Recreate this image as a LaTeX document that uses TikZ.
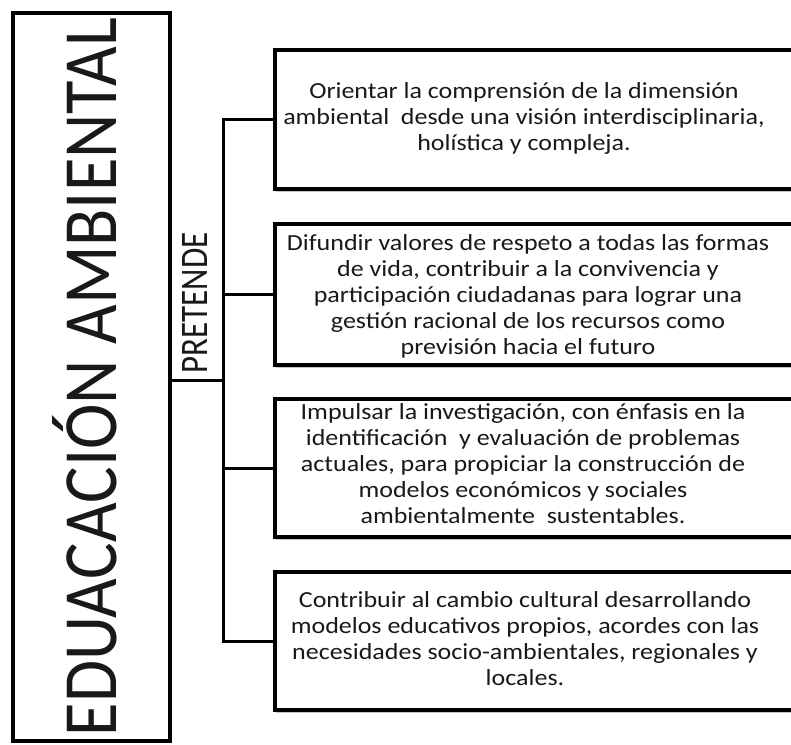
\documentclass[tikz,border=0pt]{standalone}
\usepackage{graphicx}
\usepackage{fontspec}
\setmainfont{Carlito}
\usetikzlibrary{shadows}
\newcommand{\boxlines}[1]{\scalebox{1.13}[1]{\fontsize{23}{26}\selectfont\begin{tabular}{@{}c@{}}#1\end{tabular}}}
\begin{document}
\begin{tikzpicture}[x=1pt,y=-1pt,
  ebox/.style={draw, line width=4pt, fill=white,
    drop shadow={shadow xshift=1pt,shadow yshift=-3pt,opacity=0.45},
    minimum width=527pt, anchor=north west, inner sep=0pt},
  etext/.style={text=black!90, inner sep=0pt},
  conn/.style={line width=3pt}]
\useasboundingbox (0,0) rectangle (791,744);
\clip (0,0) rectangle (791,744);
\fill[white] (0,0) rectangle (791,744);
% title box
\node[draw, line width=4pt, minimum width=728pt, minimum height=157pt, rotate=90,
  inner sep=0pt, text height=49.6pt, text depth=0pt, text=black!90] (title) at (91.5,377)
  {\fontsize{68.5}{68.5}\selectfont\scalebox{1}[1.12]{EDUACACIÓN AMBIENTAL}};
% label
\node[rotate=90, inner sep=0pt, text height=25pt, text depth=0pt, text=black!90] (pre) at (195,303)
  {\fontsize{33}{33}\selectfont\scalebox{1}[1.18]{PRETENDE}};
\coordinate (j) at (223,380);
% boxes
\node[ebox, minimum height=139pt] (b1) at (273,48) {};
\node[ebox, minimum height=141pt] (b2) at (273,222) {};
\node[ebox, minimum height=138pt] (b3) at (273,397) {};
\node[ebox, minimum height=138pt] (b4) at (273,570) {};
% texts
\node[etext] (t1) at (524,119) {\boxlines{Orientar la comprensión de la dimensión\\ambiental\ \ desde una visión interdisciplinaria,\\holística y compleja.}};
\node[etext] (t2) at (528,297) {\boxlines{Difundir valores de respeto a todas las formas\\de vida, contribuir a la convivencia y\\participación ciudadanas para lograr una\\gestión racional de los recursos como\\previsión hacia el futuro}};
\node[etext] (t3) at (523,466) {\boxlines{Impulsar la investigación, con énfasis en la\\identificación\ \ y evaluación de problemas\\actuales, para propiciar la construcción de\\modelos económicos y sociales\\ambientalmente\ \ sustentables.}};
\node[etext] (t4) at (525,641) {\boxlines{Contribuir al cambio cultural desarrollando\\modelos educativos propios, acordes con las\\necesidades socio-ambientales, regionales y\\locales.}};
% connectors
\draw[conn] (j -| title.south) -- (j);
\draw[conn] (b1.west) -- (b1.west -| j) -- (b4.west -| j) -- (b4.west);
\draw[conn] (b2.west -| j) -- (b2.west);
\draw[conn] (b3.west -| j) -- (b3.west);
\end{tikzpicture}
\end{document}
